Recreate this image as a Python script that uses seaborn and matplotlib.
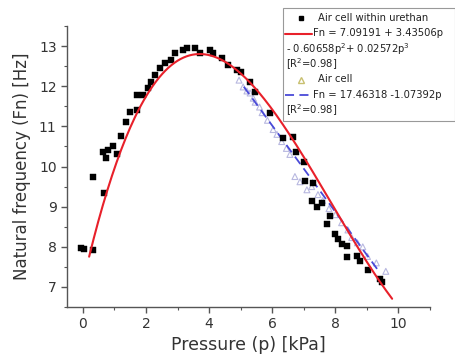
import numpy as np
import pandas as pd
import matplotlib
matplotlib.use("Agg")
import matplotlib.pyplot as plt
from matplotlib.lines import Line2D
from matplotlib.patches import Rectangle
from matplotlib.ticker import MultipleLocator
import seaborn as sns

# --- data: air cell within urethane (black squares) ---
urethan_p = [-0.05, 0.05, 0.32, 0.32, 0.66, 0.63, 0.79, 0.95, 0.73, 1.07, 1.2, 1.36, 1.5,
             1.73, 1.73, 1.9, 2.05, 2.15, 2.3, 2.46, 2.6, 2.78, 2.93, 3.19, 3.3, 3.56,
             3.72, 4.04, 4.13, 4.42, 4.6, 4.89, 5.0, 5.3, 5.46, 5.93, 6.34, 6.66, 6.75,
             7.0, 7.05, 7.3, 7.26, 7.42, 7.57, 7.82, 7.73, 7.98, 8.08, 8.2, 8.36, 8.36,
             8.7, 8.78, 9.02, 9.4, 9.48]
urethan_f = [7.97, 7.95, 7.93, 9.75, 9.35, 10.35, 10.42, 10.5, 10.2, 10.3, 10.75, 11.1, 11.36,
             11.4, 11.78, 11.78, 11.95, 12.1, 12.28, 12.45, 12.58, 12.65, 12.83, 12.9, 12.95, 12.95,
             12.83, 12.9, 12.83, 12.7, 12.53, 12.4, 12.35, 12.1, 11.86, 11.33, 10.72, 10.74, 10.36,
             10.12, 9.63, 9.6, 9.13, 8.98, 9.1, 8.76, 8.58, 8.33, 8.2, 8.06, 8.01, 7.74,
             7.76, 7.65, 7.42, 7.19, 7.12]

# --- data: air cell (open triangles) ---
air_p = [4.95, 5.08, 5.2, 5.3, 5.4, 5.46, 5.6, 5.68, 5.85, 6.03, 6.15, 6.3, 6.45, 6.56,
         6.72, 6.88, 7.1, 7.25, 7.45, 7.6, 7.8, 8.0, 8.2, 8.4, 8.52, 8.7, 8.87, 9.02, 9.3, 9.6]
air_f = [12.15, 11.98, 11.88, 11.83, 11.7, 11.6, 11.48, 11.34, 11.15, 10.92, 10.8, 10.62, 10.45, 10.3,
         9.75, 9.62, 9.42, 9.5, 9.3, 9.15, 8.95, 8.8, 8.6, 8.42, 8.23, 8.1, 8.0, 7.76, 7.6, 7.39]

# --- fitted curves (coefficients shown in legend) ---
poly_coef = [7.09191, 3.43506, -0.60658, 0.02572]
poly_range = [0.2, 9.8]
lin_coef = [17.46318, -1.07392]
lin_range = [5.1, 9.4]

x_ticks = [0, 2, 4, 6, 8, 10]
y_ticks = [7, 8, 9, 10, 11, 12, 13]

sns.set_style("white")
plt.rcParams["font.family"] = ["DejaVu Sans"]

fig = plt.figure(figsize=(4.56, 3.6), dpi=100)
ax = fig.add_axes([0.147, 0.147, 0.796, 0.781])

pp = np.linspace(poly_range[0], poly_range[1], 200)
fp = sum(c * pp ** i for i, c in enumerate(poly_coef))
pl = np.linspace(lin_range[0], lin_range[1], 50)
fl = lin_coef[0] + lin_coef[1] * pl

df_u = pd.DataFrame({"p": urethan_p, "f": urethan_f})
df_a = pd.DataFrame({"p": air_p, "f": air_f})

sns.scatterplot(data=df_a, x="p", y="f", ax=ax, marker="^", s=18,
                facecolor="none", edgecolor="#b8b8e0", linewidth=0.8, zorder=2)
sns.lineplot(x=pl, y=fl, ax=ax, color="#4a4ad8", linewidth=1.3, linestyle=(0, (5, 3)), zorder=3)
sns.scatterplot(data=df_u, x="p", y="f", ax=ax, marker="s", s=14,
                color="black", edgecolor="black", linewidth=0.3, zorder=4)
sns.lineplot(x=pp, y=fp, ax=ax, color="#e8202a", linewidth=1.5, zorder=5)

ax.set_xlim(-0.5, 11)
ax.set_ylim(6.5, 13.5)
ax.set_xticks(x_ticks)
ax.set_yticks(y_ticks)
ax.xaxis.set_minor_locator(MultipleLocator(1))
ax.yaxis.set_minor_locator(MultipleLocator(0.5))
for s in ["top", "right"]:
    ax.spines[s].set_visible(False)
for s in ["left", "bottom"]:
    ax.spines[s].set_color("#555555")
    ax.spines[s].set_linewidth(1.0)
ax.tick_params(which="major", direction="out", length=4, width=1, color="#555555",
               labelsize=10, labelcolor="#333333", left=True, bottom=True)
ax.tick_params(which="minor", direction="out", length=2, width=0.8, color="#555555",
               left=True, bottom=True)
ax.set_xlabel("Pressure (p) [kPa]", fontsize=12.5, color="#333333", labelpad=3)
ax.set_ylabel("Natural frequency (Fn) [Hz]", fontsize=12, color="#333333", labelpad=6)

# --- manual legend in figure pixel coordinates ---
W, H = 456.0, 360.0
def fx(px): return px / W
def fy(py): return 1 - py / H

box = Rectangle((fx(283), fy(121)), fx(455) - fx(283), fy(8) - fy(121),
                transform=fig.transFigure, facecolor="white", edgecolor="#999999",
                linewidth=0.8, zorder=10)
fig.add_artist(box)

rows = [18, 33.5, 49, 64.5, 79.5, 95, 110.5]
fs = 7.2
tc = "#222222"
fig.add_artist(Line2D([fx(301)], [fy(rows[0])], marker="s", markersize=3.5, color="black",
                      linestyle="none", transform=fig.transFigure, zorder=11))
fig.text(fx(318), fy(rows[0]), "Air cell within urethan", fontsize=fs, color=tc, va="center", zorder=11)
fig.add_artist(Line2D([fx(285), fx(312)], [fy(rows[1])] * 2, color="#e8202a", linewidth=1.5,
                      transform=fig.transFigure, zorder=11))
fig.text(fx(313), fy(rows[1]), "Fn = 7.09191 + 3.43506p", fontsize=fs, color=tc, va="center", zorder=11)
fig.text(fx(286), fy(rows[2]), "- 0.60658p$^{2}$+ 0.02572p$^{3}$", fontsize=fs, color=tc, va="center", zorder=11)
fig.text(fx(286), fy(rows[3]), "[R$^{2}$=0.98]", fontsize=fs, color=tc, va="center", zorder=11)
fig.add_artist(Line2D([fx(301)], [fy(rows[4])], marker="^", markersize=4, markerfacecolor="none",
                      markeredgecolor="#c8c070", linestyle="none", transform=fig.transFigure, zorder=11))
fig.text(fx(318), fy(rows[4]), "Air cell", fontsize=fs, color=tc, va="center", zorder=11)
fig.add_artist(Line2D([fx(285), fx(312)], [fy(rows[5])] * 2, color="#4a4ad8", linewidth=1.3,
                      linestyle=(0, (5, 3)), transform=fig.transFigure, zorder=11))
fig.text(fx(313), fy(rows[5]), "Fn = 17.46318 -1.07392p", fontsize=fs, color=tc, va="center", zorder=11)
fig.text(fx(286), fy(rows[6]), "[R$^{2}$=0.98]", fontsize=fs, color=tc, va="center", zorder=11)

fig.savefig("out.png", dpi=100)
